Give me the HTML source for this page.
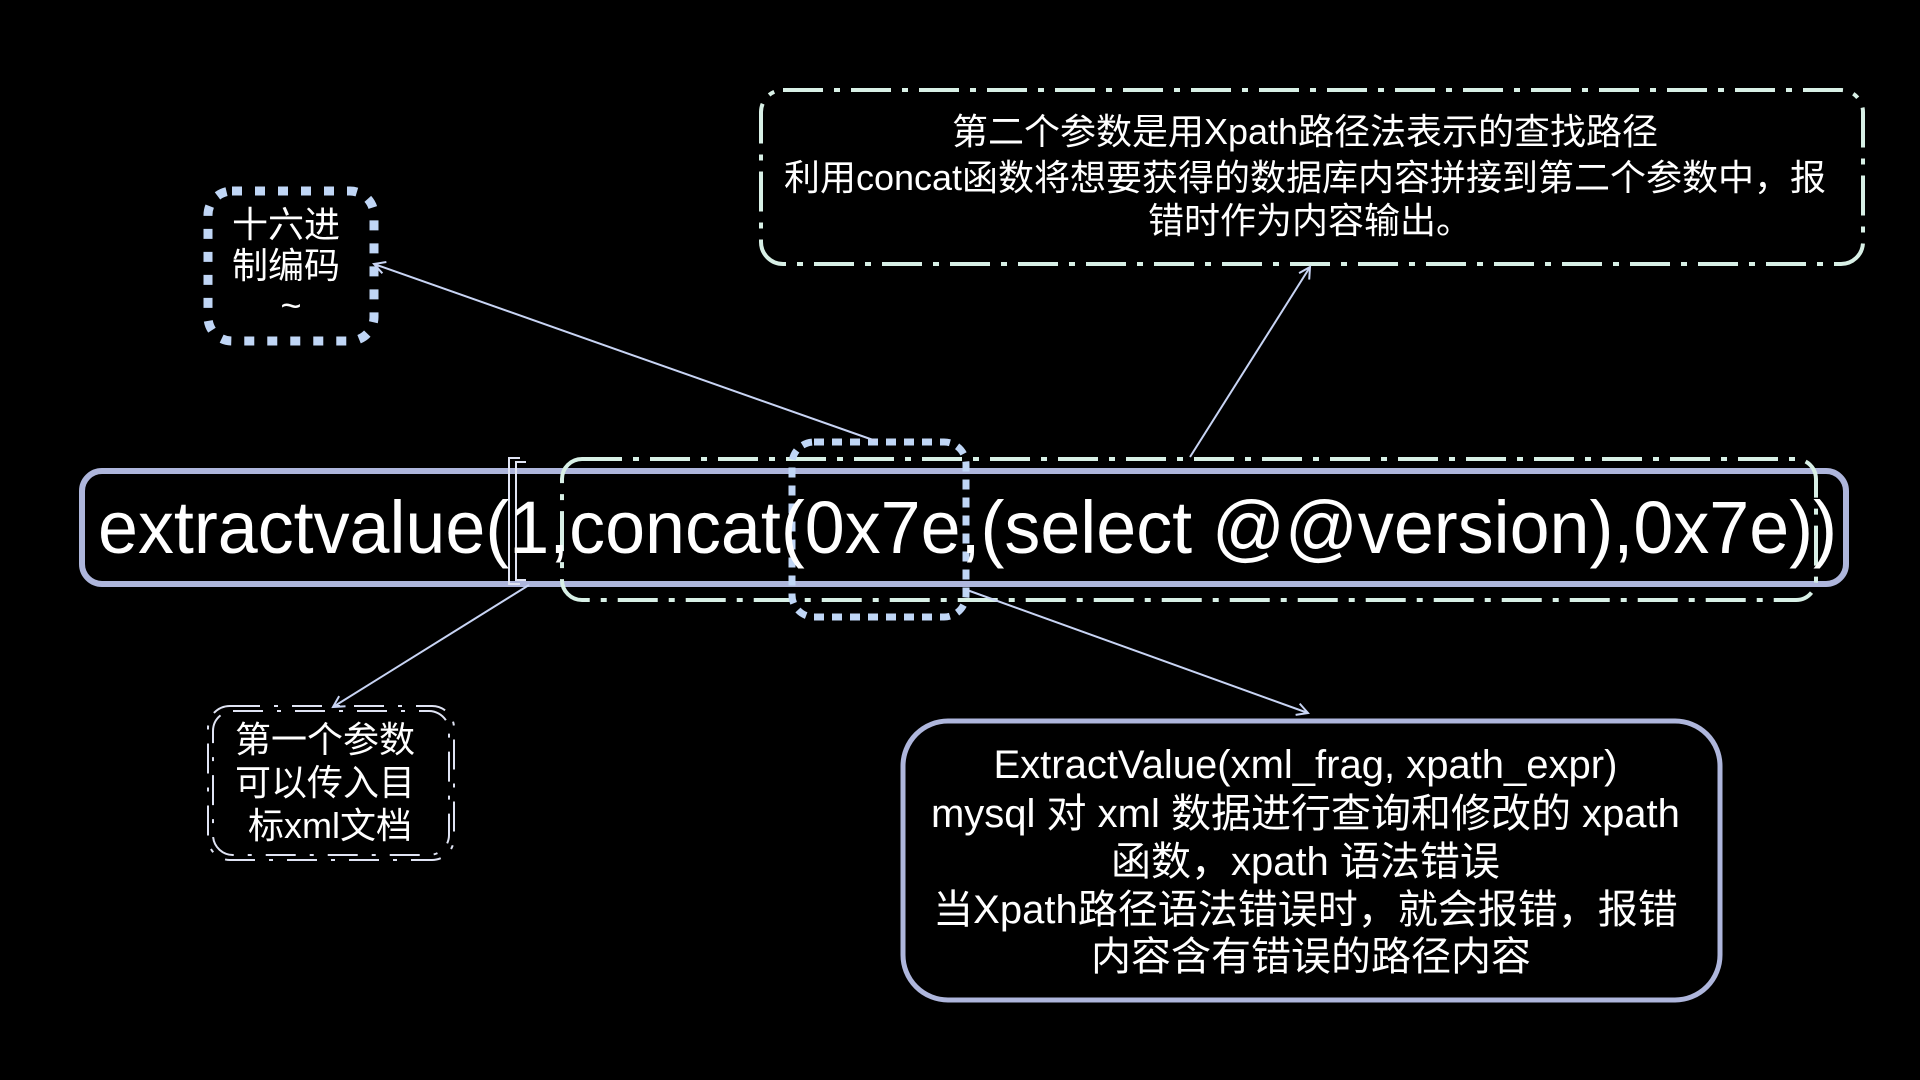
<!DOCTYPE html>
<html><head><meta charset="utf-8"><style>
html,body{margin:0;padding:0;background:#000;}
svg{display:block;}
text{font-family:"Liberation Sans","Noto Sans CJK SC",sans-serif;fill:#fff;}
</style></head><body>
<svg width="1920" height="1080" viewBox="0 0 1920 1080" xmlns="http://www.w3.org/2000/svg">
<defs>
<marker id="ah" markerWidth="14" markerHeight="14" refX="12" refY="7" orient="auto" markerUnits="userSpaceOnUse">
<path d="M1,1 L12,7 L1,13" fill="none" stroke="#c8d4f4" stroke-width="2"/>
</marker>
</defs>
<rect width="1920" height="1080" fill="#000"/>

<rect x="82" y="471" width="1764" height="113" rx="20" fill="none" stroke="#aeb6dc" stroke-width="6"/>
<rect x="562" y="459" width="1254" height="141" rx="20" fill="none" stroke="#d8f0e6" stroke-width="4" stroke-dasharray="40 11 6 11"/>
<rect x="792" y="442" width="174" height="175" rx="22" fill="none" stroke="#c0d6f6" stroke-width="7" stroke-dasharray="10 8"/>
<path d="M520,458 L509,458 L509,584 L520,584 M526,462 L516,462 L516,580 L526,580" fill="none" stroke="#e0e4f4" stroke-width="2"/>

<text x="98" y="553" font-size="74" textLength="1739" lengthAdjust="spacingAndGlyphs">extractvalue(1,concat(0x7e,(select @@version),0x7e))</text>

<rect x="761" y="90" width="1102" height="174" rx="22" fill="none" stroke="#d8f0e6" stroke-width="4" stroke-dasharray="40 11 6 11"/>
<text font-size="36" text-anchor="middle">
<tspan x="1310" y="144">第二个参数是用Xpath路径法表示的查找路径</tspan>
<tspan x="1310" y="190">利用concat函数将想要获得的数据库内容拼接到第二个参数中，报</tspan>
<tspan x="1310" y="233">错时作为内容输出。</tspan>
</text>

<rect x="208" y="191" width="166" height="150" rx="24" fill="none" stroke="#c0d6f6" stroke-width="9" stroke-dasharray="10 13"/>
<text font-size="36" text-anchor="middle">
<tspan x="291" y="237">十六进</tspan>
<tspan x="291" y="278">制编码</tspan>
<tspan x="291" y="318">~</tspan>
</text>

<rect x="208" y="706" width="246" height="154" rx="22" fill="none" stroke="#e0e4f4" stroke-width="2" stroke-dasharray="30 14 4 14"/>
<rect x="213" y="711" width="236" height="144" rx="20" fill="none" stroke="#e0e4f4" stroke-width="2" stroke-dasharray="30 14 4 14"/>
<text font-size="36" text-anchor="middle">
<tspan x="330" y="752">第一个参数</tspan>
<tspan x="330" y="795">可以传入目</tspan>
<tspan x="330" y="838">标xml文档</tspan>
</text>

<rect x="903" y="721" width="817" height="279" rx="45" fill="none" stroke="#aeb6dc" stroke-width="5"/>
<text font-size="40" text-anchor="middle">
<tspan x="1311" y="778">ExtractValue(xml_frag, xpath_expr)</tspan>
<tspan x="1311" y="827">mysql 对 xml 数据进行查询和修改的 xpath</tspan>
<tspan x="1311" y="875">函数，xpath 语法错误</tspan>
<tspan x="1311" y="923">当Xpath路径语法错误时，就会报错，报错</tspan>
<tspan x="1311" y="970">内容含有错误的路径内容</tspan>
</text>

<g stroke="#c8d4f4" stroke-width="2" fill="none">
<line x1="876" y1="441" x2="374" y2="264" marker-end="url(#ah)"/>
<line x1="1190" y1="457" x2="1310" y2="267" marker-end="url(#ah)"/>
<line x1="529" y1="585" x2="333" y2="707" marker-end="url(#ah)"/>
<line x1="967" y1="590" x2="1308" y2="713" marker-end="url(#ah)"/>
</g>
</svg>
</body></html>
